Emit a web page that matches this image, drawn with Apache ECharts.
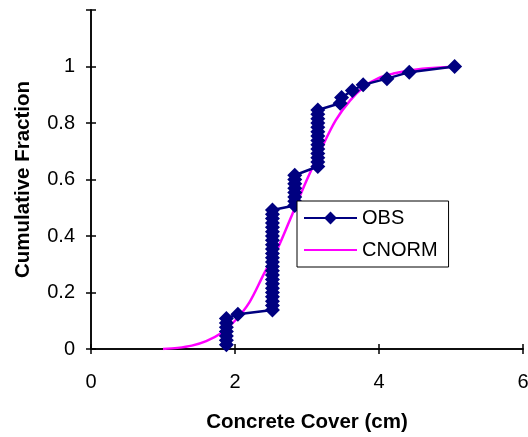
<!DOCTYPE html>
<html>
<head>
<meta charset="utf-8">
<script src="https://cdn.jsdelivr.net/npm/echarts@6/dist/echarts.min.js"></script>
<style>
  html, body { margin: 0; padding: 0; background: #fff; }
  #chart { width: 528px; height: 437px; }
</style>
</head>
<body>
<div id="chart"></div>
<script>
// observed cumulative fraction (x = cover in cm)
var obsX = [
  1.88, 1.88, 1.88, 1.88, 1.88, 1.88, 1.88,
  2.04,
  2.52, 2.52, 2.52, 2.52, 2.52, 2.52, 2.52, 2.52, 2.52, 2.52, 2.52, 2.52,
  2.52, 2.52, 2.52, 2.52, 2.52, 2.52, 2.52, 2.52, 2.52, 2.52, 2.52, 2.52,
  2.83, 2.83, 2.83, 2.83, 2.83, 2.83, 2.83, 2.83,
  3.15, 3.15, 3.15, 3.15, 3.15, 3.15, 3.15, 3.15, 3.15, 3.15, 3.15, 3.15, 3.15, 3.15,
  3.46, 3.48, 3.63, 3.78, 4.11, 4.42, 5.05
];
var obsY = [
  0.015, 0.031, 0.046, 0.062, 0.077, 0.092, 0.108,
  0.123,
  0.138, 0.154, 0.169, 0.185, 0.200, 0.215, 0.231, 0.246, 0.262, 0.277, 0.292, 0.308,
  0.323, 0.338, 0.354, 0.369, 0.385, 0.400, 0.415, 0.431, 0.446, 0.462, 0.477, 0.492,
  0.508, 0.523, 0.538, 0.554, 0.569, 0.585, 0.600, 0.615,
  0.646, 0.662, 0.677, 0.692, 0.708, 0.723, 0.738, 0.754, 0.769, 0.785, 0.800, 0.815, 0.831, 0.846,
  0.870, 0.890, 0.915, 0.935, 0.957, 0.980, 1.000
];
// fitted curve
var normX = [1.0, 1.2, 1.4, 1.6, 1.8, 2.0, 2.2, 2.4, 2.6, 2.8, 3.0, 3.2, 3.4, 3.6, 3.8, 4.0, 4.2, 4.4, 4.6, 4.8, 5.07];
var normY = [0.0, 0.004, 0.012, 0.028, 0.055, 0.10, 0.165, 0.265, 0.36, 0.48, 0.60, 0.71, 0.81, 0.88, 0.93, 0.96, 0.975, 0.985, 0.992, 0.996, 0.999];

var xTicks = [0, 2, 4, 6];
var yTicks = [0, 0.2, 0.4, 0.6, 0.8, 1];

var font = 'Liberation Sans, Arial, sans-serif';

function pairs(xs, ys) {
  return xs.map(function (x, i) { return [x, ys[i]]; });
}

var chart = echarts.init(document.getElementById('chart'));

var baseX = {
  type: 'value', min: 0, max: 6, interval: 2,
  splitLine: { show: false },
  axisLine: { show: true, onZero: false, lineStyle: { color: '#000', width: 1.5 } },
  axisTick: { show: true, length: 5, lineStyle: { color: '#000', width: 1.5 } }
};
var baseY = {
  type: 'value', min: 0, max: 1.2, interval: 0.2,
  splitLine: { show: false },
  axisLine: { show: true, onZero: false, lineStyle: { color: '#000', width: 1.5 } },
  axisTick: { show: true, length: 5, lineStyle: { color: '#000', width: 1.5 } }
};

chart.setOption({
  animation: false,
  backgroundColor: '#fff',
  grid: { left: 91, right: 5, top: 10, bottom: 88, outerBoundsMode: 'none' },
  legend: {
    orient: 'vertical',
    left: 297, top: 201,
    padding: [7, 11, 7, 6],
    itemWidth: 53, itemHeight: 16, itemGap: 12,
    borderColor: '#000', borderWidth: 1,
    backgroundColor: '#fff',
    textStyle: { fontFamily: font, fontSize: 20, color: '#000' },
    data: [
      { name: 'OBS' },
      { name: 'CNORM', itemStyle: { opacity: 0 } }
    ]
  },
  xAxis: [
    Object.assign({}, baseX, {
      name: 'Concrete Cover (cm)',
      nameLocation: 'middle', nameGap: 63,
      nameTextStyle: { fontFamily: font, fontSize: 20.5, fontWeight: 'bold', color: '#000' },
      axisLabel: {
        fontFamily: font, fontSize: 20, color: '#000', margin: 23,
        formatter: function (v) { return xTicks.indexOf(v) >= 0 ? String(v) : ''; }
      }
    }),
    Object.assign({}, baseX, {
      position: 'bottom',
      axisTick: { show: true, inside: true, length: 5, lineStyle: { color: '#000', width: 1.5 } },
      axisLabel: { show: false }
    })
  ],
  yAxis: [
    Object.assign({}, baseY, {
      name: 'Cumulative Fraction',
      nameLocation: 'middle', nameGap: 57,
      nameTextStyle: { fontFamily: font, fontSize: 20.5, fontWeight: 'bold', color: '#000' },
      axisLabel: {
        fontFamily: font, fontSize: 20, color: '#000', margin: 16,
        formatter: function (v) {
          var r = Math.round(v * 10) / 10;
          return yTicks.indexOf(r) >= 0 ? String(r) : '';
        }
      }
    }),
    Object.assign({}, baseY, {
      position: 'left',
      axisTick: { show: true, inside: true, length: 5, lineStyle: { color: '#000', width: 1.5 } },
      axisLabel: { show: false }
    })
  ],
  series: [
    {
      name: 'OBS',
      type: 'line',
      data: pairs(obsX, obsY),
      symbol: 'diamond',
      symbolSize: 15,
      showAllSymbol: true,
      color: '#000080',
      lineStyle: { color: '#000080', width: 2.5 },
      itemStyle: { color: '#000080' },
      z: 3
    },
    {
      name: 'CNORM',
      type: 'line',
      data: pairs(normX, normY),
      smooth: 0.3,
      symbol: 'none',
      color: '#ff00ff',
      lineStyle: { color: '#ff00ff', width: 2.5 },
      z: 2
    }
  ]
});
</script>
</body>
</html>
